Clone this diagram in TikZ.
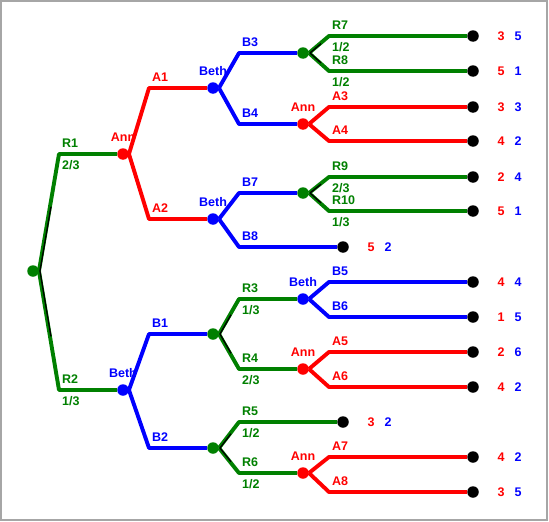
\documentclass[tikz,border=0pt]{standalone}
\usepackage{fontspec}
\setmainfont{Liberation Sans}
\usetikzlibrary{calc}
\definecolor{rgreen}{RGB}{0,128,0}
\definecolor{ared}{RGB}{255,0,0}
\definecolor{bblue}{RGB}{0,0,255}
\begin{document}
\begin{tikzpicture}[x=1pt,y=-1pt,
  dot/.style={circle,minimum size=11.5pt,inner sep=0pt},
  chance/.style={dot,fill=rgreen},
  txt/.style={inner sep=0pt,font=\fontsize{12.5}{14}\selectfont\bfseries},
  annnode/.style={dot,fill=ared,label={[txt,text=ared]90:Ann}},
  bethnode/.style={dot,fill=bblue,label={[txt,text=bblue]90:Beth}},
  leaf/.style={dot,fill=black},
  edge/.style={line width=3.9pt,line join=round},
  tick/.style={black,line width=1.3pt},
  label distance=6.2pt]
  \useasboundingbox (0,0) rectangle (549,522);
  \draw[gray!70,line width=2.5pt] (1,1) rectangle (547,520);
  \node[chance] (root) at (33,271) {};
  \node[annnode] (nR1) at (123,154) {};
  \node[bethnode] (nR2) at (123,390) {};
  \node[bethnode] (nA1) at (213,88) {};
  \node[bethnode] (nA2) at (213,219) {};
  \node[chance] (nB1) at (213,334) {};
  \node[chance] (nB2) at (213,448) {};
  \node[chance] (nB3) at (303,53) {};
  \node[annnode] (nB4) at (303,124) {};
  \node[chance] (nB7) at (303,193) {};
  \node[leaf] (nB8) at (343,247) {};
  \node[bethnode] (nR3) at (303,299) {};
  \node[annnode] (nR4) at (303,369) {};
  \node[leaf] (nR5) at (343,422) {};
  \node[annnode] (nR6) at (303,473) {};
  \foreach \n/\y in {R7/36,R8/71,A3/107,A4/141,R9/177,R10/211,
                     B5/282,B6/317,A5/352,A6/387,A7/457,A8/492}
    \node[leaf] (n\n) at (473,\y) {};
  \foreach \col/\from/\to in {rgreen/root/R1,rgreen/root/R2,
      ared/nR1/A1,ared/nR1/A2,bblue/nR2/B1,bblue/nR2/B2,
      bblue/nA1/B3,bblue/nA1/B4,bblue/nA2/B7,bblue/nA2/B8,
      rgreen/nB1/R3,rgreen/nB1/R4,rgreen/nB2/R5,rgreen/nB2/R6,
      rgreen/nB3/R7,rgreen/nB3/R8,ared/nB4/A3,ared/nB4/A4,
      rgreen/nB7/R9,rgreen/nB7/R10,bblue/nR3/B5,bblue/nR3/B6,
      ared/nR4/A5,ared/nR4/A6,ared/nR6/A7,ared/nR6/A8} {
    \draw[edge,\col] (\from.east) -- ($(\from |- n\to)+(26,0)$) coordinate (k\to) -- (n\to);
    \node[txt,text=\col,anchor=west] (l\to) at ($(k\to)+(3,-11)$) {\to};
  }
  \foreach \from/\to in {root/R1,root/R2,nB1/R3,nB1/R4,nB2/R5,nB2/R6,
                         nB3/R7,nB3/R8,nB7/R9,nB7/R10}
    \draw[tick] ([xshift=1pt]\from.east) -- ($([xshift=1pt]\from.east)!.55!([xshift=1pt]k\to)$);
  \foreach \to/\p in {R1/{2/3},R2/{1/3},R3/{1/3},R4/{2/3},R5/{1/2},
                      R6/{1/2},R7/{1/2},R8/{1/2},R9/{2/3},R10/{1/3}}
    \node[txt,text=rgreen,anchor=west] (p\to) at ($(k\to)+(3,11)$) {\p};
  \foreach \to/\u/\v in {R7/3/5,R8/5/1,A3/3/3,A4/4/2,R9/2/4,R10/5/1,B8/5/2,
                         B5/4/4,B6/1/5,A5/2/6,A6/4/2,R5/3/2,A7/4/2,A8/3/5} {
    \node[txt,text=ared] (u\to) at ($(n\to)+(28,0)$) {\u};
    \node[txt,text=bblue] (v\to) at ($(n\to)+(45,0)$) {\v};
  }
\end{tikzpicture}
\end{document}
